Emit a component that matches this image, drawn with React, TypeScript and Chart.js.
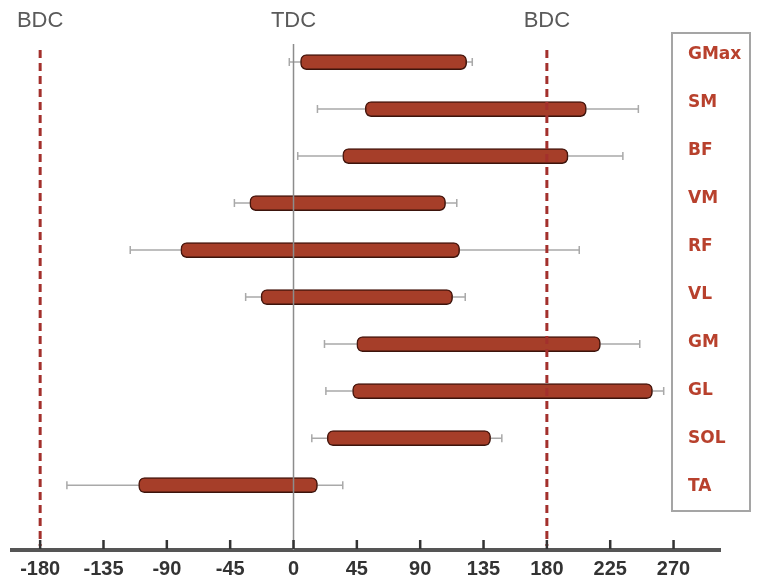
import React, { useEffect, useRef } from "react";
import { Chart, registerables } from "chart.js";

Chart.register(...registerables);

const muscles = ["GMax", "SM", "BF", "VM", "RF", "VL", "GM", "GL", "SOL", "TA"];
const onset = [5, 51, 35, -31, -80, -23, 45, 42, 24, -110];
const offset = [123, 208, 195, 108, 118, 113, 218, 255, 140, 17];
const onsetWhisker = [-3, 17, 3, -42, -116, -34, 22, 23, 13, -161];
const offsetWhisker = [127, 245, 234, 116, 203, 122, 246, 263, 148, 35];
const xTicks = [-180, -135, -90, -45, 0, 45, 90, 135, 180, 225, 270];
const refLines = [
  { value: -180, label: "BDC", dashed: true },
  { value: 0, label: "TDC", dashed: false },
  { value: 180, label: "BDC", dashed: true },
];

const FONT = '"Liberation Sans", Arial, sans-serif';
const LEGEND_FONT = '"DejaVu Sans", Verdana, sans-serif';
const BAR_FILL = "#a63e29";
const BAR_EDGE = "#4e1a10";
const LABEL_RED = "#b8412d";

const overlayPlugin = {
  id: "overlay",
  beforeDatasetsDraw(chart: any) {
    const { ctx, scales } = chart;
    const x = scales.x;
    const y = scales.y;
    ctx.save();
    ctx.strokeStyle = "#a9a9a9";
    ctx.lineWidth = 1.5;
    muscles.forEach((_, i) => {
      const py = y.getPixelForValue(i);
      const a = x.getPixelForValue(onsetWhisker[i]);
      const b = x.getPixelForValue(offsetWhisker[i]);
      ctx.beginPath();
      ctx.moveTo(a, py);
      ctx.lineTo(b, py);
      ctx.stroke();
      ctx.beginPath();
      ctx.moveTo(a, py - 4);
      ctx.lineTo(a, py + 4);
      ctx.moveTo(b, py - 4);
      ctx.lineTo(b, py + 4);
      ctx.stroke();
    });
    ctx.restore();
  },
  beforeDatasetDraw(chart: any) {
    const ctx = chart.ctx;
    ctx.save();
    ctx.shadowColor = "rgba(0,0,0,0.35)";
    ctx.shadowBlur = 5;
    ctx.shadowOffsetX = 1;
    ctx.shadowOffsetY = 2;
  },
  afterDatasetDraw(chart: any) {
    chart.ctx.restore();
  },
  afterDatasetsDraw(chart: any) {
    const { ctx, scales, chartArea } = chart;
    const x = scales.x;
    ctx.save();
    refLines.forEach((r) => {
      const px = x.getPixelForValue(r.value);
      ctx.beginPath();
      if (r.dashed) {
        ctx.strokeStyle = "#a3302c";
        ctx.lineWidth = 3;
        ctx.setLineDash([8, 5]);
        ctx.moveTo(px, chartArea.top + 10);
        ctx.lineTo(px, chartArea.bottom - 4);
      } else {
        ctx.strokeStyle = "#8c8c8c";
        ctx.lineWidth = 1.5;
        ctx.setLineDash([]);
        ctx.moveTo(px, chartArea.top + 4);
        ctx.lineTo(px, chartArea.bottom);
      }
      ctx.stroke();
      ctx.setLineDash([]);
      ctx.fillStyle = "#5a5a5a";
      ctx.font = `22px ${FONT}`;
      ctx.textAlign = "center";
      ctx.textBaseline = "middle";
      ctx.fillText(r.label, px, 21);
    });
    ctx.strokeStyle = "#333";
    ctx.lineWidth = 2.5;
    x.ticks.forEach((t: any) => {
      const px = x.getPixelForValue(t.value);
      ctx.beginPath();
      ctx.moveTo(px, chartArea.bottom - 1);
      ctx.lineTo(px, chartArea.bottom - 10);
      ctx.stroke();
    });
    ctx.restore();
  },
  afterDraw(chart: any) {
    const { ctx } = chart;
    ctx.save();
    const bx = 672, by = 33, bw = 78, bh = 478;
    ctx.fillStyle = "#fff";
    ctx.fillRect(bx, by, bw, bh);
    ctx.strokeStyle = "#a5a5a5";
    ctx.lineWidth = 2;
    ctx.strokeRect(bx, by, bw, bh);
    ctx.fillStyle = LABEL_RED;
    ctx.font = `bold 17px ${LEGEND_FONT}`;
    ctx.textAlign = "left";
    ctx.textBaseline = "middle";
    muscles.forEach((m, i) => {
      ctx.fillText(m, 688, 55 + i * 47.9);
    });
    ctx.restore();
  },
};

export default function App() {
  const ref = useRef<HTMLCanvasElement | null>(null);
  useEffect(() => {
    if (!ref.current) return;
    const chart = new Chart(ref.current, {
      type: "bar",
      data: {
        datasets: [
          {
            data: muscles.map((m, i) => ({ x: [onset[i], offset[i]], y: i })) as any,
            backgroundColor: BAR_FILL,
            borderColor: BAR_EDGE,
            borderWidth: 1.5,
            borderRadius: 6,
            borderSkipped: false,
            barThickness: 15,
          },
        ],
      },
      options: {
        indexAxis: "y",
        animation: false,
        responsive: true,
        maintainAspectRatio: false,
        layout: { padding: { left: 12, right: 37, top: 40, bottom: -3 } },
        plugins: { legend: { display: false }, tooltip: { enabled: false } },
        scales: {
          x: {
            type: "linear",
            min: -200,
            max: 303,
            afterBuildTicks: (s: any) => {
              s.ticks = xTicks.map((v) => ({ value: v }));
            },
            grid: { display: true, drawOnChartArea: false, drawTicks: false },
            border: { display: true, color: "#555", width: 4 },
            ticks: {
              padding: 7,
              color: "#333",
              font: { family: FONT, size: 20, weight: "bold" },
              maxRotation: 0,
              autoSkip: false,
            },
          },
          y: {
            type: "linear",
            display: false,
            reverse: true,
            offset: false,
            min: -0.47,
            max: 10.38,
            grid: { offset: false },
          },
        },
      },
      plugins: [overlayPlugin],
    });
    return () => chart.destroy();
  }, []);
  return (
    <div style={{ position: "absolute", left: 0, top: 0, width: 757, height: 585, background: "#fff" }}>
      <canvas ref={ref} />
    </div>
  );
}
